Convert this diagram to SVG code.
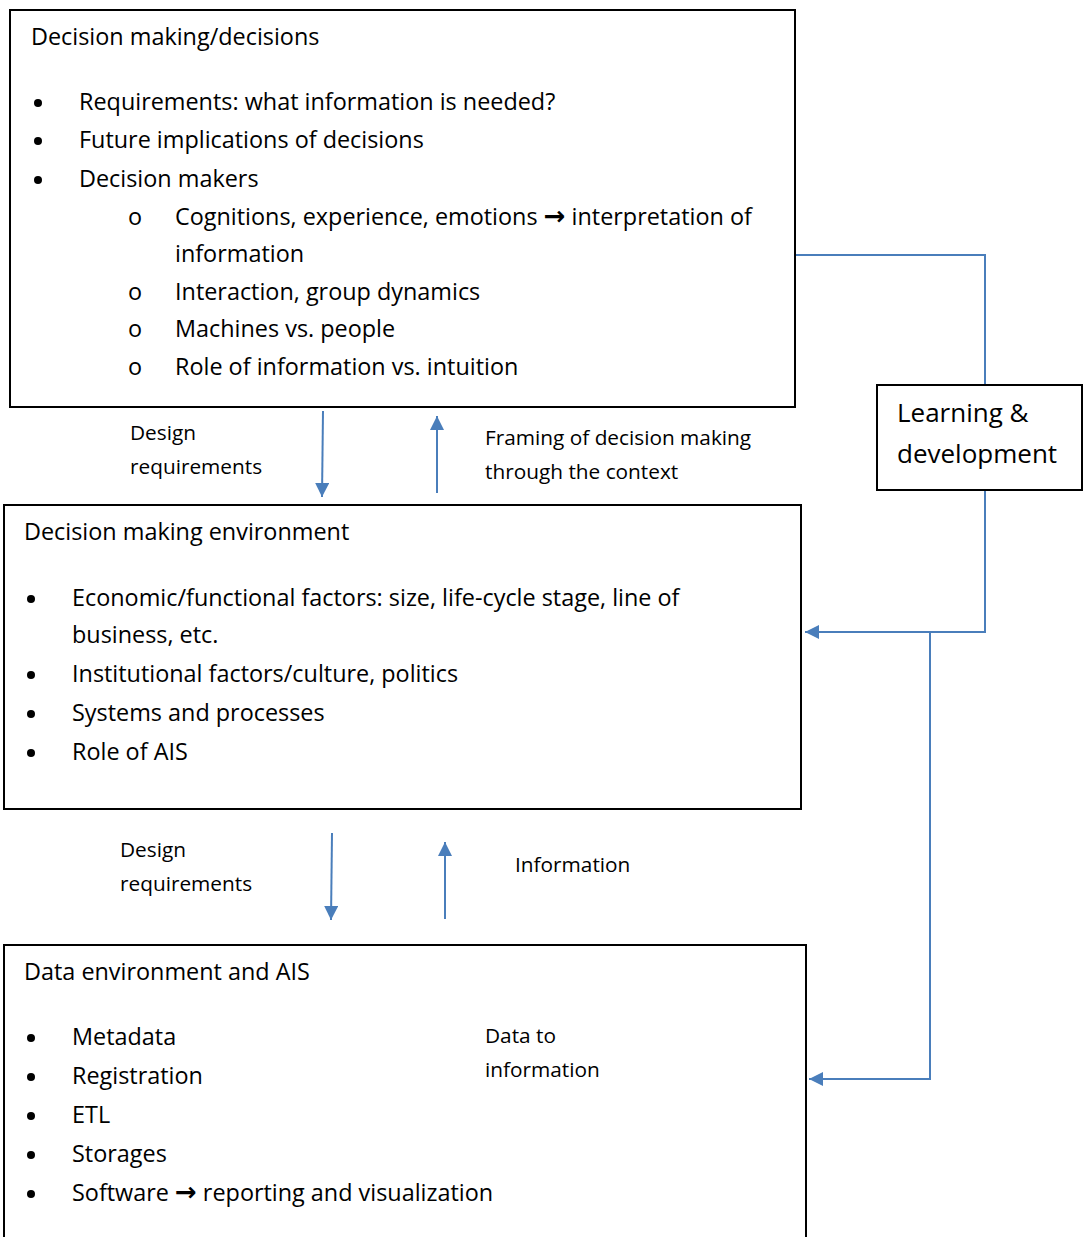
<svg xmlns="http://www.w3.org/2000/svg" width="1083" height="1237" viewBox="0 0 1083 1237">
<defs>
<style>
.box{fill:#fff;stroke:#000;stroke-width:2}
.t{font-family:"Open Sans","Liberation Sans",sans-serif;font-size:23.4px;fill:#000}
.s{font-family:"Open Sans","Liberation Sans",sans-serif;font-size:20.8px;fill:#000}
.big{font-family:"Open Sans","Liberation Sans",sans-serif;font-size:26px;fill:#000}
.ar{font-family:"DejaVu Sans",sans-serif;font-weight:bold;font-size:26px}
.b{fill:#000}
.c{fill:none;stroke:#4a7ebb;stroke-width:2}
</style>
<marker id="ah2" viewBox="0 0 10 10" refX="10" refY="5" markerWidth="7" markerHeight="7" orient="auto"><path d="M0,0 L10,5 L0,10 z" fill="#4a7ebb"/></marker>
</defs>
<rect width="1083" height="1237" fill="#fff"/>
<g id="connectors">
<line class="c" x1="323" y1="411" x2="322" y2="497" marker-end="url(#ah2)"/>
<line class="c" x1="437" y1="493" x2="437" y2="416" marker-end="url(#ah2)"/>
<line class="c" x1="332" y1="833" x2="331" y2="920" marker-end="url(#ah2)"/>
<line class="c" x1="445" y1="919" x2="445" y2="842" marker-end="url(#ah2)"/>
<polyline class="c" points="795,255 985,255 985,385"/>
<polyline class="c" points="985,490 985,632 805,632" marker-end="url(#ah2)"/>
<polyline class="c" points="930,632 930,1079 809,1079" marker-end="url(#ah2)"/>
</g>
<g id="decision-making">
<rect class="box" x="10" y="10" width="785" height="397"/>
<text class="t" x="31" y="45">Decision making/decisions</text>
<circle class="b" cx="38" cy="103" r="4"/><text class="t" x="79" y="110">Requirements: what information is needed?</text>
<circle class="b" cx="38" cy="141" r="4"/><text class="t" x="79" y="148">Future implications of decisions</text>
<circle class="b" cx="38" cy="180" r="4"/><text class="t" x="79" y="187">Decision makers</text>
<text class="t" x="128" y="225">o</text><text class="t" x="175" y="225">Cognitions, experience, emotions <tspan class="ar">→</tspan> interpretation of</text>
<text class="t" x="175" y="262">information</text>
<text class="t" x="128" y="300">o</text><text class="t" x="175" y="300">Interaction, group dynamics</text>
<text class="t" x="128" y="337">o</text><text class="t" x="175" y="337">Machines vs. people</text>
<text class="t" x="128" y="375">o</text><text class="t" x="175" y="375">Role of information vs. intuition</text>
</g>
<g id="labels-1">
<text class="s" x="130" y="440">Design</text>
<text class="s" x="130" y="474">requirements</text>
<text class="s" x="485" y="445">Framing of decision making</text>
<text class="s" x="485" y="479">through the context</text>
</g>
<g id="decision-environment">
<rect class="box" x="4" y="505" width="797" height="304"/>
<text class="t" x="24" y="540">Decision making environment</text>
<circle class="b" cx="31" cy="599" r="4"/><text class="t" x="72" y="606">Economic/functional factors: size, life-cycle stage, line of</text>
<text class="t" x="72" y="643">business, etc.</text>
<circle class="b" cx="31" cy="675" r="4"/><text class="t" x="72" y="682">Institutional factors/culture, politics</text>
<circle class="b" cx="31" cy="714" r="4"/><text class="t" x="72" y="721">Systems and processes</text>
<circle class="b" cx="31" cy="753" r="4"/><text class="t" x="72" y="760">Role of AIS</text>
</g>
<g id="labels-2">
<text class="s" x="120" y="857">Design</text>
<text class="s" x="120" y="891">requirements</text>
<text class="s" x="515" y="872">Information</text>
</g>
<g id="data-environment">
<rect class="box" x="4" y="945" width="802" height="310"/>
<text class="t" x="24" y="980">Data environment and AIS</text>
<circle class="b" cx="31" cy="1038" r="4"/><text class="t" x="72" y="1045">Metadata</text>
<circle class="b" cx="31" cy="1077" r="4"/><text class="t" x="72" y="1084">Registration</text>
<circle class="b" cx="31" cy="1116" r="4"/><text class="t" x="72" y="1123">ETL</text>
<circle class="b" cx="31" cy="1155" r="4"/><text class="t" x="72" y="1162">Storages</text>
<circle class="b" cx="31" cy="1194" r="4"/><text class="t" x="72" y="1201">Software <tspan class="ar">→</tspan> reporting and visualization</text>
<text class="s" x="485" y="1043">Data to</text>
<text class="s" x="485" y="1077">information</text>
</g>
<g id="learning">
<rect class="box" x="877" y="385" width="205" height="105"/>
<text class="big" x="897" y="422">Learning &amp;</text>
<text class="big" x="897" y="463">development</text>
</g>
</svg>
